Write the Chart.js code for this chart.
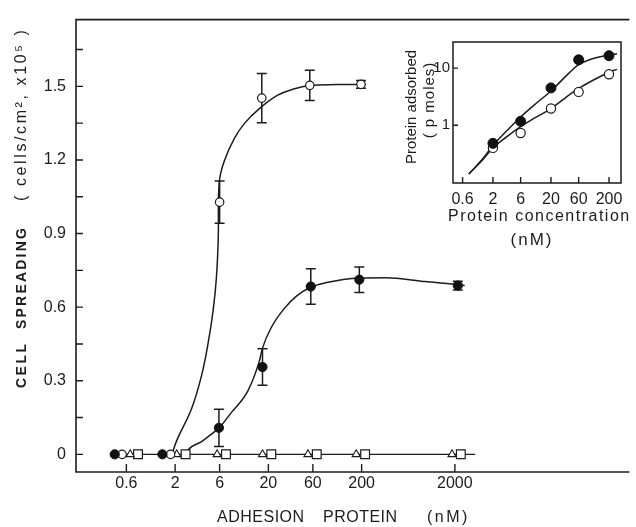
<!DOCTYPE html>
<html>
<head>
<meta charset="utf-8">
<script src="https://cdn.jsdelivr.net/npm/chart.js@4"></script>
<style>
  html, body { margin: 0; padding: 0; background: #fff; }
  #wrap { position: relative; width: 636px; height: 527px; }
  #mainChart { position: absolute; left: 0; top: 0; }
  #insetChart { position: absolute; left: 395px; top: 30px; }
</style>
</head>
<body>
<div id="wrap">
  <canvas id="mainChart" width="636" height="527"></canvas>
  <canvas id="insetChart" width="241" height="230"></canvas>
</div>
<script>
// ---- main plot: cell spreading vs adhesion protein (nM) ----
const xTicks = [0.6, 2, 6, 20, 60, 200, 2000];
const yTicks = [0, 0.3, 0.6, 0.9, 1.2, 1.5];
const yMinorTicks = [0.15, 0.45, 0.75, 1.05, 1.35, 1.65];

const openX = [0.54, 1.79, 6.0, 17.0, 55.6, 197];
const openY = [0, 0, 1.028, 1.452, 1.504, 1.508];
const openErr = [0, 0, 0.086, 0.10, 0.062, 0.016];

const filledX = [0.45, 1.46, 5.9, 17.3, 57, 189, 2150];
const filledY = [0, 0, 0.108, 0.356, 0.684, 0.712, 0.688];
const filledErr = [0, 0, 0.076, 0.074, 0.072, 0.052, 0.018];

const triX = [0.66, 2.08, 5.64, 17.3, 53.1, 175, 1862];
const triY = [0, 0, 0, 0, 0, 0, 0];
const squareX = [0.80, 2.59, 7.02, 21.5, 66.1, 218, 2317];
const squareY = [0, 0, 0, 0, 0, 0, 0];

// drawn fit curves
const openFitX = [1.85, 2.08, 3.02, 3.85, 4.53, 5.12, 5.55, 5.8, 5.95, 6.8, 8.7, 11.1, 16.0, 24.9, 37.4, 55.3, 107, 223];
const openFitY = [0, 0.056, 0.189, 0.323, 0.456, 0.589, 0.723, 0.88, 1.11, 1.2, 1.29, 1.349, 1.409, 1.463, 1.489, 1.503, 1.507, 1.507];
const filledFitX = [2.6, 2.78, 3.85, 4.53, 6.06, 8.0, 12.1, 16.0, 17.3, 21.2, 29.4, 40.6, 56.1, 84.3, 127, 190, 364, 964, 2150, 2550];
const filledFitY = [0, 0.02, 0.052, 0.072, 0.112, 0.17, 0.26, 0.38, 0.433, 0.513, 0.593, 0.647, 0.68, 0.7, 0.713, 0.719, 0.72, 0.704, 0.692, 0.688];
const zeroLineX = [0.45, 3300];
const zeroLineY = [0, 0];

// ---- inset: protein adsorbed vs protein concentration ----
const insetXTicks = [0.6, 2, 6, 20, 60, 200];
const insetYTicks = [1, 10];
const adsConc = [2, 6, 20, 60, 200];
const adsFilled = [0.48, 1.17, 4.5, 14, 16.5];
const adsOpen = [0.40, 0.73, 1.96, 3.83, 7.8];
const adsFilledFitX = [0.77, 1.3, 2, 3.4, 6, 10, 20, 40, 60, 100, 200, 274];
const adsFilledFitY = [0.14, 0.25, 0.44, 0.78, 1.39, 2.2, 3.98, 8, 11.5, 14.5, 17, 17.9];
const adsOpenFitX = [0.77, 1.3, 2, 3.4, 6, 10, 20, 60, 200, 274];
const adsOpenFitY = [0.14, 0.24, 0.40, 0.62, 0.94, 1.3, 1.96, 4.4, 8.5, 9.5];

const INK = "#1c1c1c";
const FONT = "'Liberation Sans', Arial, Helvetica, sans-serif";

function pts(xs, ys) {
    return xs.map((x, i) => ({ x: x, y: ys[i] }));
}

// error bars, drawn under the markers
const errorBars = {
    id: "errorBars",
    beforeDatasetsDraw(chart) {
        const ctx = chart.ctx;
        const xs = chart.scales.x, ys = chart.scales.y;
        ctx.save();
        ctx.strokeStyle = INK;
        ctx.lineWidth = 1.5;
        chart.data.datasets.forEach((ds) => {
            if (!ds.errors) return;
            ds.data.forEach((p, i) => {
                const e = ds.errors[i];
                if (!e) return;
                const px = xs.getPixelForValue(p.x);
                const top = ys.getPixelForValue(p.y + e);
                const bot = ys.getPixelForValue(p.y - e);
                ctx.beginPath();
                ctx.moveTo(px, top); ctx.lineTo(px, bot);
                ctx.moveTo(px - 5, top); ctx.lineTo(px + 5, top);
                ctx.moveTo(px - 5, bot); ctx.lineTo(px + 5, bot);
                ctx.stroke();
            });
        });
        ctx.restore();
    },
};

// frame lines and inward tick marks
const frameTicks = {
    id: "frameTicks",
    afterDraw(chart, args, opts) {
        const { ctx, chartArea: a, scales } = chart;
        ctx.save();
        ctx.strokeStyle = INK;
        ctx.lineWidth = opts.lineWidth || 1.6;
        ctx.lineCap = "square";
        ctx.beginPath();
        const sides = opts.sides;
        if (sides.includes("left")) { ctx.moveTo(a.left, a.top); ctx.lineTo(a.left, a.bottom); }
        if (sides.includes("right")) { ctx.moveTo(a.right, a.top); ctx.lineTo(a.right, a.bottom); }
        if (sides.includes("top")) { ctx.moveTo(a.left, a.top); ctx.lineTo(a.right, a.top); }
        if (sides.includes("bottom")) { ctx.moveTo(a.left, a.bottom); ctx.lineTo(a.right, a.bottom); }
        ctx.stroke();
        ctx.lineWidth = opts.tickWidth || 1.4;
        ctx.lineCap = "butt";
        ctx.beginPath();
        scales.x.ticks.forEach((t) => {
            const px = scales.x.getPixelForValue(t.value);
            ctx.moveTo(px, a.bottom); ctx.lineTo(px, a.bottom - opts.xLen);
        });
        scales.y.ticks.forEach((t) => {
            const py = scales.y.getPixelForValue(t.value);
            ctx.moveTo(a.left, py); ctx.lineTo(a.left + opts.yLen, py);
        });
        ctx.stroke();
        ctx.restore();
    },
};

// axis titles
const axisText = {
    id: "axisText",
    afterDraw(chart, args, opts) {
        const ctx = chart.ctx;
        opts.items.forEach((it) => {
            ctx.save();
            ctx.fillStyle = INK;
            ctx.font = it.font;
            ctx.letterSpacing = (it.spacing || 0) + "px";
            ctx.textAlign = it.align || "left";
            ctx.textBaseline = "middle";
            ctx.translate(it.x, it.y);
            if (it.rotate) ctx.rotate(-Math.PI / 2);
            ctx.fillText(it.text, 0, 0);
            ctx.restore();
        });
    },
};

new Chart(document.getElementById("mainChart"), {
    type: "scatter",
    data: {
        datasets: [
            {
                data: pts(filledX, filledY), errors: filledErr,
                pointStyle: "circle", pointRadius: 4.6, pointBackgroundColor: "#111",
                pointBorderColor: "#111", pointBorderWidth: 1,
            },
            {
                data: pts(openX, openY), errors: openErr,
                pointStyle: "circle", pointRadius: 4.2, pointBackgroundColor: "#fff",
                pointBorderColor: INK, pointBorderWidth: 1.2,
            },
            {
                data: pts(triX, triY),
                pointStyle: "triangle", pointRadius: 4.6, pointBackgroundColor: "#fff",
                pointBorderColor: INK, pointBorderWidth: 1.1,
            },
            {
                data: pts(squareX, squareY),
                pointStyle: "rect", pointRadius: 6.2, pointBackgroundColor: "#fff",
                pointBorderColor: INK, pointBorderWidth: 1.2,
            },
            {
                data: pts(openFitX, openFitY), showLine: true, pointRadius: 0,
                borderColor: INK, borderWidth: 1.5, tension: 0.4,
            },
            {
                data: pts(filledFitX, filledFitY), showLine: true, pointRadius: 0,
                borderColor: INK, borderWidth: 1.5, cubicInterpolationMode: "monotone",
            },
            {
                data: pts(zeroLineX, zeroLineY), showLine: true, pointRadius: 0,
                borderColor: INK, borderWidth: 1.4,
            },
        ],
    },
    options: {
        responsive: false,
        animation: false,
        events: [],
        layout: { padding: { top: 11, right: 0, left: 0, bottom: 0 } },
        plugins: {
            legend: { display: false },
            tooltip: { enabled: false },
            frameTicks: { sides: ["left", "top", "bottom"], xLen: 8, yLen: 7 },
            axisText: {
                items: [
                    { text: "CELL", x: 22, y: 388, rotate: true, font: "bold 14px " + FONT, spacing: 2.5 },
                    { text: "SPREADING", x: 22, y: 329, rotate: true, font: "bold 14px " + FONT, spacing: 2.2 },
                    { text: "( cells/cm², x10⁵ )", x: 22, y: 201, rotate: true, font: "16px " + FONT, spacing: 2.6 },
                    { text: "ADHESION", x: 217, y: 518, font: "16px " + FONT, spacing: 0.5 },
                    { text: "PROTEIN", x: 323, y: 518, font: "16px " + FONT, spacing: 0.5 },
                    { text: "(nM)", x: 427, y: 518, font: "16px " + FONT, spacing: 2.5 },
                ],
            },
        },
        scales: {
            x: {
                type: "logarithmic",
                min: 0.173,
                max: 145900,
                afterBuildTicks: (s) => { s.ticks = xTicks.map((v) => ({ value: v })); },
                afterFit: (s) => { s.height = 55; },
                grid: { display: false, drawTicks: false },
                border: { display: false },
                ticks: {
                    autoSkip: false, maxRotation: 0, padding: 2,
                    color: INK, font: { family: FONT, size: 16 },
                    callback: (v) => String(v),
                },
            },
            y: {
                type: "linear",
                min: -0.072,
                max: 1.772,
                afterBuildTicks: (s) => {
                    s.ticks = yTicks.concat(yMinorTicks).sort((a, b) => a - b).map((v) => ({ value: v }));
                },
                afterFit: (s) => { s.width = 76; },
                grid: { display: false, drawTicks: false },
                border: { display: false },
                ticks: {
                    autoSkip: false, padding: 10,
                    color: INK, font: { family: FONT, size: 16 },
                    callback: (v) => (yTicks.includes(v) ? String(v) : ""),
                },
            },
        },
    },
    plugins: [errorBars, frameTicks, axisText],
});

new Chart(document.getElementById("insetChart"), {
    type: "scatter",
    data: {
        datasets: [
            {
                data: pts(adsConc, adsFilled),
                pointStyle: "circle", pointRadius: 5, pointBackgroundColor: "#111",
                pointBorderColor: "#111", pointBorderWidth: 1,
            },
            {
                data: pts(adsConc, adsOpen),
                pointStyle: "circle", pointRadius: 4.6, pointBackgroundColor: "#fff",
                pointBorderColor: INK, pointBorderWidth: 1.2,
            },
            {
                data: pts(adsFilledFitX, adsFilledFitY), showLine: true, pointRadius: 0,
                borderColor: INK, borderWidth: 1.5, tension: 0.4,
            },
            {
                data: pts(adsOpenFitX, adsOpenFitY), showLine: true, pointRadius: 0,
                borderColor: INK, borderWidth: 1.5, tension: 0.4,
            },
        ],
    },
    options: {
        responsive: false,
        animation: false,
        events: [],
        layout: { padding: { top: 10, right: 15, left: 0, bottom: 0 } },
        plugins: {
            legend: { display: false },
            tooltip: { enabled: false },
            frameTicks: { sides: ["left", "top", "right", "bottom"], xLen: 6, yLen: 5, lineWidth: 1.5 },
            axisText: {
                items: [
                    { text: "Protein adsorbed", x: 17, y: 77, rotate: true, align: "center", font: "15px " + FONT },
                    { text: "( p moles)", x: 35, y: 70, rotate: true, align: "center", font: "15px " + FONT, spacing: 1 },
                    { text: "Protein concentration", x: 53, y: 187, font: "16px " + FONT, spacing: 1.5 },
                    { text: "(nM)", x: 137, y: 210, align: "center", font: "17px " + FONT, spacing: 2 },
                ],
            },
        },
        scales: {
            x: {
                type: "logarithmic",
                min: 0.41,
                max: 322,
                afterBuildTicks: (s) => { s.ticks = insetXTicks.map((v) => ({ value: v })); },
                afterFit: (s) => { s.height = 77; },
                grid: { display: false, drawTicks: false },
                border: { display: false },
                ticks: {
                    autoSkip: false, maxRotation: 0, padding: 7,
                    color: INK, font: { family: FONT, size: 16 },
                    callback: (v) => String(v),
                },
            },
            y: {
                type: "logarithmic",
                min: 0.097,
                max: 28.7,
                afterBuildTicks: (s) => { s.ticks = insetYTicks.map((v) => ({ value: v })); },
                afterFit: (s) => { s.width = 58; },
                grid: { display: false, drawTicks: false },
                border: { display: false },
                ticks: {
                    autoSkip: false, padding: 3,
                    color: INK, font: { family: FONT, size: 15 },
                    callback: (v) => String(v),
                },
            },
        },
    },
    plugins: [frameTicks, axisText],
});
</script>
</body>
</html>
